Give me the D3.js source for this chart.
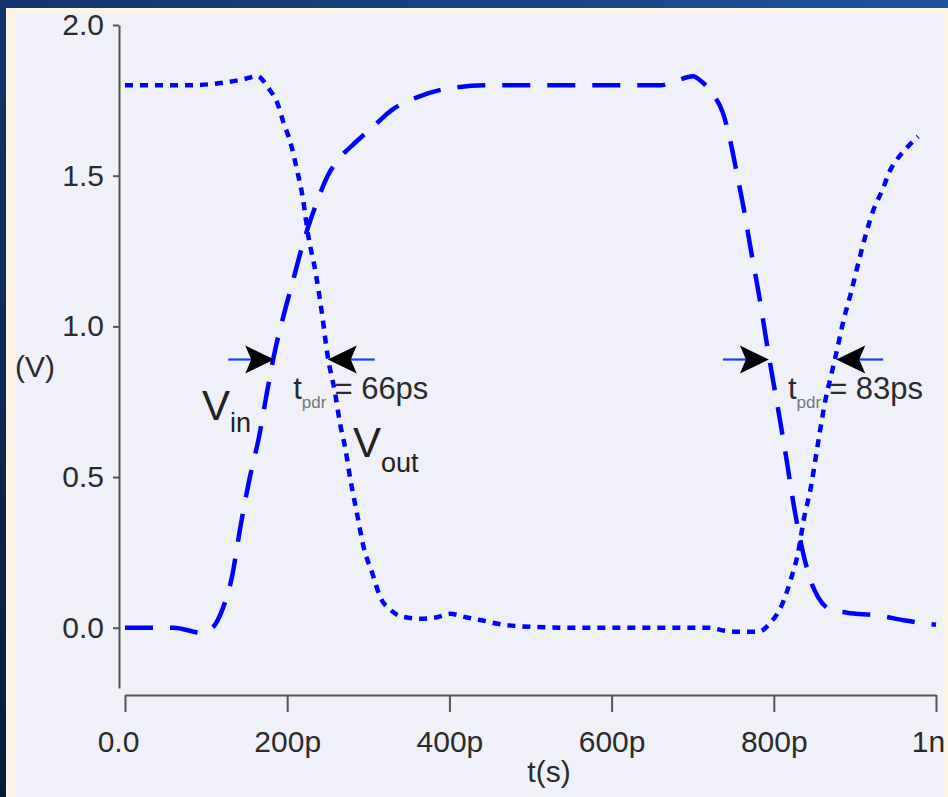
<!DOCTYPE html>
<html>
<head>
  <meta charset="UTF-8">
  <title>Inverter propagation delay</title>
  <style>
    body { margin: 0; background: #0f2f66; }
    svg { display: block; font-family: "Liberation Sans", Arial, sans-serif; }
  </style>
</head>
<body>
<svg></svg>

<script src="https://d3js.org/d3.v7.min.js"></script>
<script>

let width = 948,
    height = 797;

// time (ps), voltage (V)
let vinData = [
  [0, 0], [60, 0], [95, -0.017], [108, 0], [120, 0.06], [132, 0.17], [142, 0.33],
  [154, 0.50], [165, 0.63], [175, 0.78], [185, 0.92], [195, 1.03], [207, 1.15],
  [220, 1.28], [235, 1.40], [250, 1.50], [265, 1.56], [280, 1.60], [305, 1.66],
  [330, 1.72], [360, 1.76], [400, 1.79], [450, 1.80], [660, 1.80], [680, 1.815],
  [700, 1.83], [712, 1.81], [725, 1.77], [737, 1.71], [746, 1.62], [755, 1.50],
  [763, 1.39], [772, 1.25], [782, 1.10], [794, 0.90], [805, 0.73], [815, 0.57],
  [825, 0.40], [836, 0.25], [845, 0.16], [855, 0.10], [870, 0.06], [890, 0.05],
  [930, 0.04], [960, 0.025], [1000, 0.01]
];

let voutData = [
  [0, 1.80], [80, 1.80], [110, 1.805], [146, 1.82], [163, 1.83], [177, 1.79],
  [188, 1.74], [195, 1.68], [204, 1.61], [212, 1.52], [219, 1.43], [226, 1.30],
  [235, 1.18], [243, 1.04], [250, 0.90], [259, 0.78], [265, 0.68], [272, 0.59],
  [278, 0.49], [286, 0.38], [294, 0.27], [305, 0.18], [315, 0.10], [327, 0.06],
  [343, 0.036], [365, 0.03], [385, 0.035], [401, 0.046], [420, 0.035], [440, 0.025],
  [460, 0.013], [500, 0.003], [550, 0], [720, 0], [740, -0.01], [755, -0.013],
  [781, -0.013], [796, 0.017], [809, 0.07], [821, 0.16], [830, 0.25], [837, 0.36],
  [846, 0.47], [852, 0.57], [858, 0.67], [864, 0.76], [870, 0.83], [877, 0.91],
  [886, 1.02], [895, 1.11], [907, 1.24], [914, 1.31], [922, 1.38], [935, 1.46],
  [942, 1.51], [951, 1.55], [963, 1.59], [978, 1.63]
];

let yTicks = [0, 0.5, 1.0, 1.5, 2.0];
let xTicks = [0, 200, 400, 600, 800, 1000];
let xTickLabels = ["0.0", "200p", "400p", "600p", "800p", "1n"];

// 50% crossing times of input and output
let delays = [
  { tIn: 184, tOut: 250, label: "66ps" },
  { tIn: 794, tOut: 877, label: "83ps" }
];
let halfLevel = 0.89;

let svg = d3.select("svg")
    .attr("width", width)
    .attr("height", height);

// slide background
let grad = svg.append("defs").append("linearGradient")
    .attr("id", "bg")
    .attr("x1", 0).attr("y1", 1).attr("x2", 1).attr("y2", 0);
grad.append("stop").attr("offset", 0).attr("stop-color", "#081a39");
grad.append("stop").attr("offset", 1).attr("stop-color", "#1d52a0");

svg.append("rect").attr("width", width).attr("height", height).attr("fill", "url(#bg)");
svg.append("rect").attr("x", 6).attr("y", 8).attr("width", width - 6).attr("height", height - 8)
    .attr("fill", "#fcf5e6");
svg.append("rect").attr("x", 15).attr("y", 13).attr("width", 928).attr("height", height - 13)
    .attr("fill", "#f0f1f8");

let x = d3.scaleLinear().domain([0, 1000]).range([125, 936]);
let y = d3.scaleLinear().domain([-0.2, 2.0]).range([688, 25]);

// axes
let yAxis = svg.append("g")
    .attr("transform", "translate(119,0)")
    .call(d3.axisLeft(y)
        .tickValues(yTicks)
        .tickSize(6)
        .tickSizeOuter(0)
        .tickPadding(9)
        .tickFormat(d3.format(".1f")));

let xAxis = svg.append("g")
    .attr("transform", "translate(0,695)")
    .call(d3.axisBottom(x)
        .tickValues(xTicks)
        .tickSize(17)
        .tickSizeOuter(0)
        .tickPadding(19)
        .tickFormat((d, i) => xTickLabels[i]));

svg.selectAll(".domain, .tick line")
    .attr("stroke", "#555")
    .attr("stroke-width", 2);
svg.selectAll(".tick text")
    .attr("fill", "#2b2b2b")
    .style("font-size", "30px")
    .style("font-family", "'Liberation Sans', Arial, sans-serif");

// end labels are pulled in a little
xAxis.selectAll(".tick text")
    .attr("dx", (d, i) => i == 0 ? -7 : (i == xTicks.length - 1 ? -8 : 0));

svg.append("text")
    .attr("x", 15).attr("y", 377)
    .attr("fill", "#2b2b2b")
    .style("font-size", "30px")
    .text("(V)");

svg.append("text")
    .attr("x", 549).attr("y", 782)
    .attr("text-anchor", "middle")
    .attr("fill", "#2b2b2b")
    .style("font-size", "30px")
    .text("t(s)");

// waveforms
let line = d3.line()
    .x(d => x(d[0]))
    .y(d => y(d[1]))
    .curve(d3.curveMonotoneX);

svg.append("path")
    .datum(vinData)
    .attr("fill", "none")
    .attr("stroke", "#0000ff")
    .attr("stroke-width", 4.5)
    .attr("stroke-dasharray", "28,17")
    .attr("d", line);

svg.append("path")
    .datum(voutData)
    .attr("fill", "none")
    .attr("stroke", "#0000ff")
    .attr("stroke-width", 4.5)
    .attr("stroke-dasharray", "8,7")
    .attr("d", line);

// delay arrows
let arrows = svg.append("g");
let ay = y(halfLevel);

delays.forEach(d => {
    let xl = x(d.tIn), xr = x(d.tOut);

    arrows.append("line")
        .attr("x1", xl - 46).attr("x2", xl - 22)
        .attr("y1", ay).attr("y2", ay)
        .attr("stroke", "#1f3cff").attr("stroke-width", 2.2);
    arrows.append("path")
        .attr("d", `M${xl},${ay} L${xl - 29},${ay - 14} L${xl - 23},${ay} L${xl - 29},${ay + 14} Z`)
        .attr("fill", "#000");

    arrows.append("line")
        .attr("x1", xr + 22).attr("x2", xr + 47)
        .attr("y1", ay).attr("y2", ay)
        .attr("stroke", "#1f3cff").attr("stroke-width", 2.2);
    arrows.append("path")
        .attr("d", `M${xr},${ay} L${xr + 29},${ay - 14} L${xr + 23},${ay} L${xr + 29},${ay + 14} Z`)
        .attr("fill", "#000");

    let t = arrows.append("text")
        .attr("x", xl + 19)
        .attr("y", ay + 39)
        .attr("fill", "#2b2b2b")
        .style("font-size", "31px");
    t.append("tspan").text("t");
    t.append("tspan")
        .attr("dy", 9)
        .attr("fill", "#777")
        .style("font-size", "17px")
        .text("pdr");
    t.append("tspan")
        .attr("dy", -9)
        .attr("dx", 8)
        .text("= " + d.label);
});

// signal names
let vin = svg.append("text")
    .attr("x", x(95)).attr("y", y(0.69))
    .attr("fill", "#222")
    .style("font-size", "42px");
vin.append("tspan").text("V");
vin.append("tspan").attr("dy", 12).style("font-size", "27px").text("in");

let vout = svg.append("text")
    .attr("x", x(281)).attr("y", y(0.565))
    .attr("fill", "#222")
    .style("font-size", "42px");
vout.append("tspan").text("V");
vout.append("tspan").attr("dy", 15).style("font-size", "27px").text("out");

</script>
</body>
</html>
